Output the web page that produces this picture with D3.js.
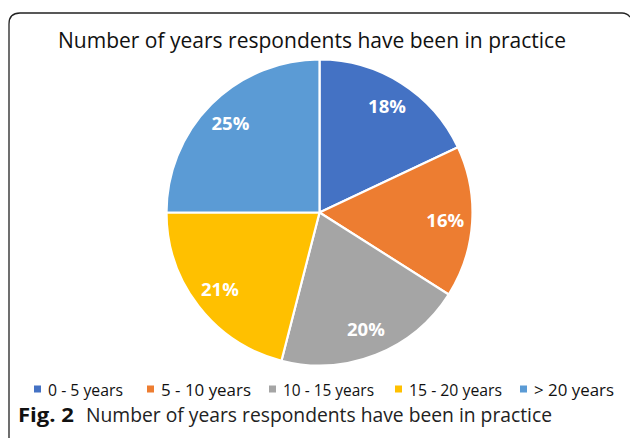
<!DOCTYPE html>
<html>
<head>
<meta charset="utf-8">
<script src="https://cdn.jsdelivr.net/npm/d3@7"></script>
<style>
  html, body { margin: 0; padding: 0; background: #fff; }
  svg { display: block; }
</style>
</head>
<body>
<svg id="chart" width="630" height="438"></svg>
<script>
const categories = ["0 - 5 years", "5 - 10 years", "10 - 15 years", "15 - 20 years", "> 20 years"];
const values = [18, 16, 20, 21, 25];
const labels = ["18%", "16%", "20%", "21%", "25%"];
const colors = ["#4472C4", "#ED7D31", "#A5A5A5", "#FFC000", "#5B9BD5"];
const title = "Number of years respondents have been in practice";
const captionBold = "Fig. 2";
const captionText = "Number of years respondents have been in practice";

const svg = d3.select("#chart");
const font = "'Open Sans', 'Noto Sans', sans-serif";

// frame
svg.append("path")
  .attr("d", "M9,438 L9,24 Q9,13 20,13 L622,13 Q627,13 630,17")
  .attr("fill", "none").attr("stroke", "#222").attr("stroke-width", 1.3);

// title
svg.append("text")
  .attr("x", 58).attr("y", 47.5)
  .attr("font-family", font).attr("font-size", 21.5)
  .attr("fill", "#111")
  .attr("textLength", 508).attr("lengthAdjust", "spacingAndGlyphs")
  .text(title);

// pie
const cx = 319.5, cy = 212.5, r = 153;
const pie = d3.pie().sort(null).value(d => d)(values);
const arc = d3.arc().innerRadius(0).outerRadius(r);
const labelArc = d3.arc().innerRadius(126).outerRadius(126);
const color = d3.scaleOrdinal().domain(d3.range(values.length)).range(colors);

const g = svg.append("g").attr("transform", `translate(${cx},${cy})`);
g.selectAll("path.slice").data(pie).join("path")
  .attr("class", "slice")
  .attr("d", arc)
  .attr("fill", (d, i) => color(i))
  .attr("stroke", "#fff").attr("stroke-width", 2.2).attr("stroke-linejoin", "round");

g.selectAll("text.lbl").data(pie).join("text")
  .attr("class", "lbl")
  .attr("transform", d => `translate(${labelArc.centroid(d)})`)
  .attr("text-anchor", "middle").attr("dy", "0.36em")
  .attr("font-family", font).attr("font-weight", "bold").attr("font-size", 18.5)
  .attr("fill", "#fff")
  .text((d, i) => labels[i]);

// legend
const legendX = [34, 147, 269, 395, 520];
const legendW = [75, 90, 91, 93, 80];
const lg = svg.append("g");
categories.forEach((c, i) => {
  lg.append("rect").attr("x", legendX[i]).attr("y", 385.5).attr("width", 7).attr("height", 7)
    .attr("fill", colors[i]);
  lg.append("text").attr("x", legendX[i] + 14).attr("y", 395.5)
    .attr("font-family", font).attr("font-size", 15.5).attr("fill", "#111")
    .attr("textLength", legendW[i]).attr("lengthAdjust", "spacingAndGlyphs")
    .text(c);
});

// caption
svg.append("text").attr("x", 18).attr("y", 421.5)
  .attr("font-family", font).attr("font-weight", "bold").attr("font-size", 20).attr("fill", "#111")
  .attr("textLength", 56).attr("lengthAdjust", "spacingAndGlyphs")
  .text(captionBold);
svg.append("text").attr("x", 86).attr("y", 421.5)
  .attr("font-family", font).attr("font-size", 20.5).attr("fill", "#222")
  .attr("textLength", 466).attr("lengthAdjust", "spacingAndGlyphs")
  .text(captionText);
</script>
</body>
</html>
